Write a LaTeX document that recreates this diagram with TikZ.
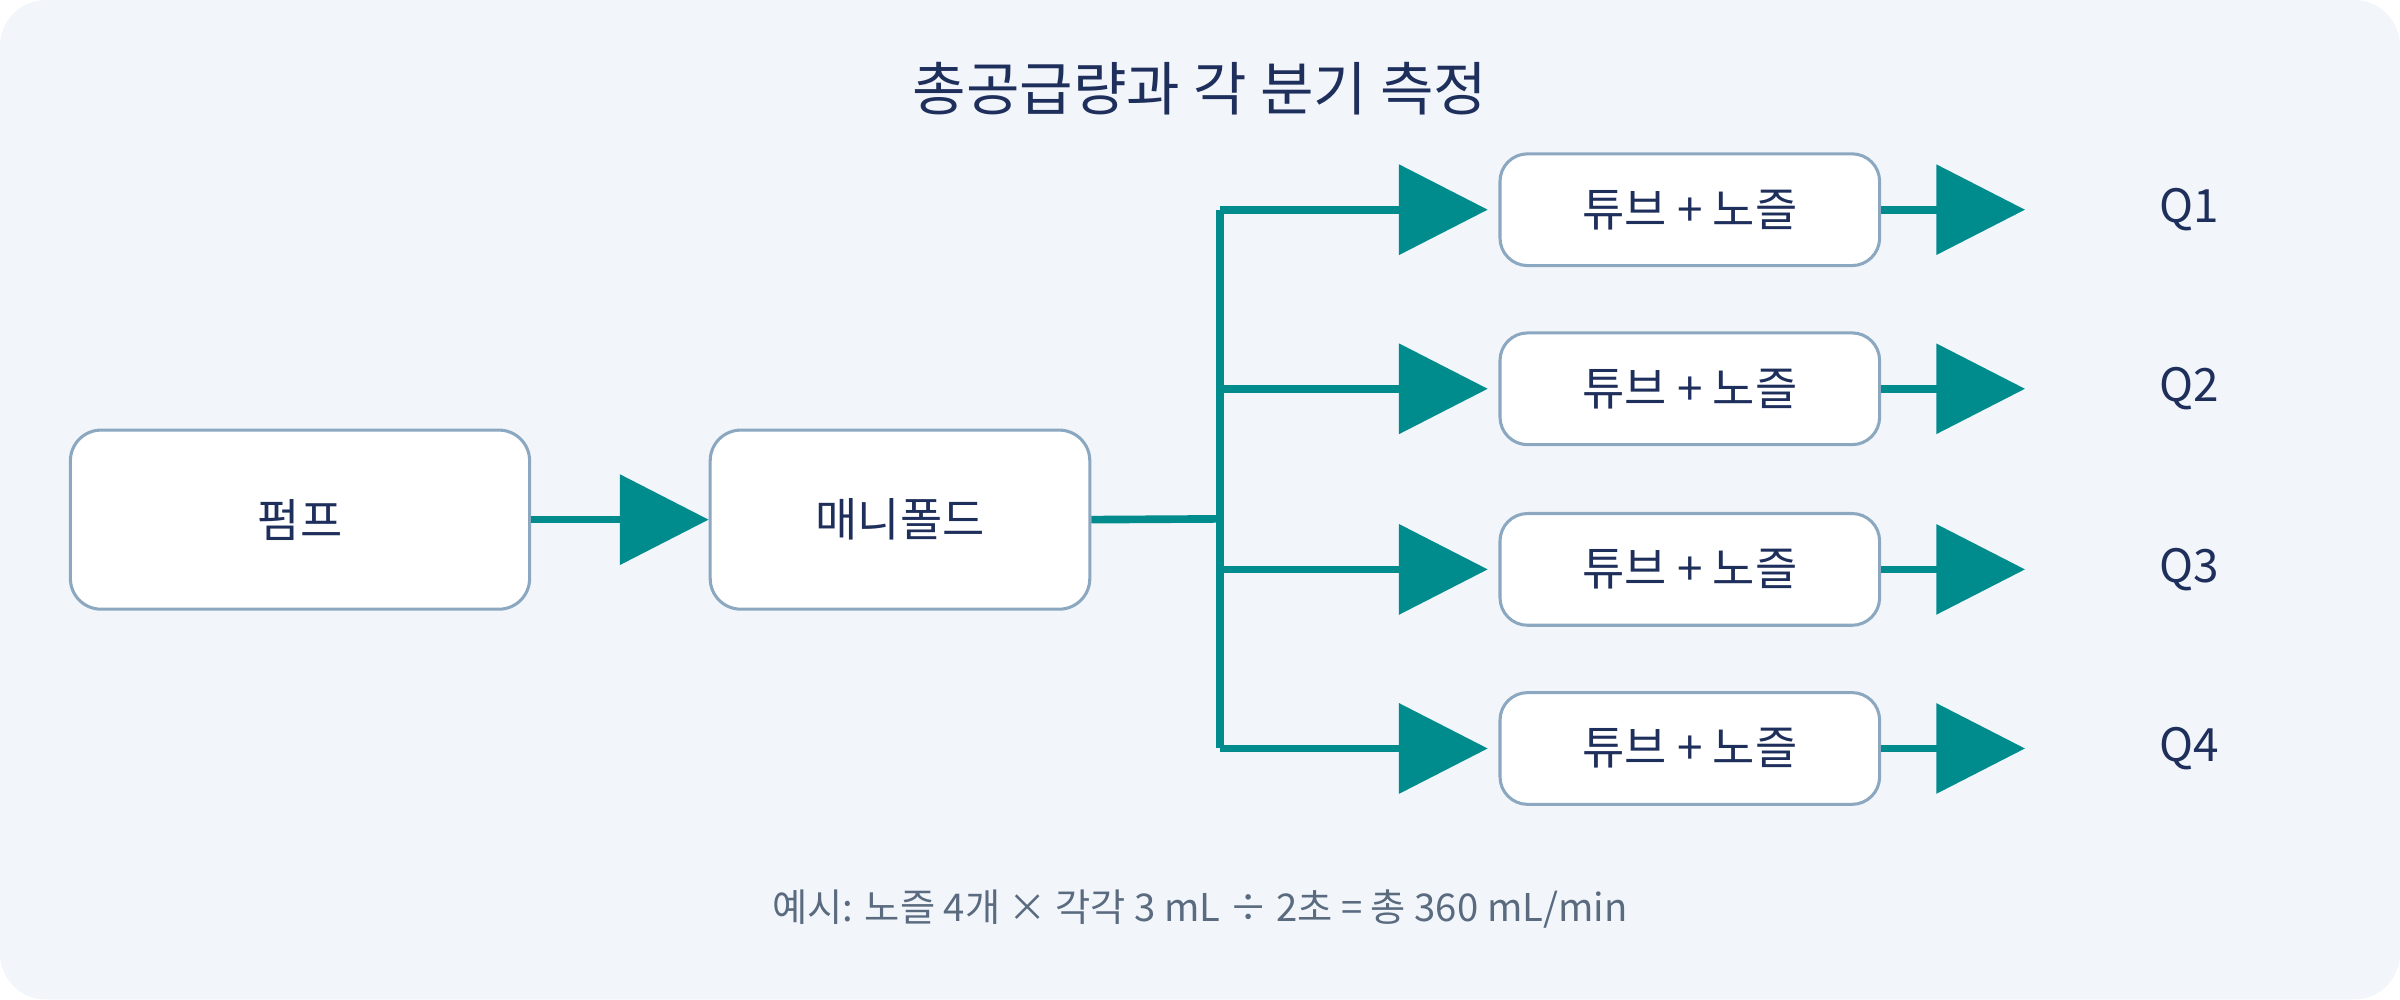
\documentclass[tikz,border=0pt]{standalone}
\usepackage{fontspec}
\setmainfont{Noto Sans CJK KR}
\usetikzlibrary{arrows.meta,positioning}
\definecolor{bgcol}{HTML}{F2F6FB}
\definecolor{navy}{HTML}{1F2F5C}
\definecolor{teal}{HTML}{008C8C}
\definecolor{boxline}{HTML}{8CA8C0}
\definecolor{foot}{HTML}{5A6B80}
\tikzset{
  box/.style={draw=boxline, line width=2pt, fill=white, rounded corners=20pt, text=navy, font=\fontsize{30}{34}\selectfont},
  flow/.style={teal, line width=5pt, -{Triangle[width=58pt,length=58pt]}},
  pipe/.style={teal, line width=5pt}
}
\begin{document}
\begin{tikzpicture}[x=1pt,y=-1pt]
  % background
  \fill[bgcol, rounded corners=30pt] (0,0) rectangle (1568,653);
  \useasboundingbox (0,0) rectangle (1568,653);
  \node[text=navy, font=\fontsize{38}{44}\selectfont] (title) at (784,58) {총공급량과 각 분기 측정};
  % main boxes
  \node[box, minimum width=300pt, minimum height=117pt] (pump) at (196,339.5) {펌프};
  \node[box, minimum width=248pt, minimum height=117pt] (manifold) at (588,339.5) {매니폴드};
  \draw[flow] (pump.east) -- (manifold.west);
  \coordinate (split) at (797,339);
  \draw[pipe] (manifold.east) -- (split);
  \draw[pipe] (797,137) -- (797,489);
  % branches
  \foreach \i/\y in {1/137,2/254,3/372,4/489}{
    \coordinate (b\i) at (797,\y);
    \node[box, minimum width=248pt, minimum height=73pt, rounded corners=18pt] (tube\i) at (1104,\y) {튜브 + 노즐};
    \node[text=navy, font=\fontsize{30}{34}\selectfont] (q\i) at (1430,\y) {Q\i};
    \draw[flow, shorten >=84pt] (tube\i.east) -- (q\i.west);
    \draw[flow, shorten >=7pt] (b\i) -- (tube\i.west);
  }
  \node[text=foot, font=\fontsize{25}{30}\selectfont] (note) at (784,594) {예시: 노즐 4개 × 각각 3 mL ÷ 2초 = 총 360 mL/min};
\end{tikzpicture}
\end{document}
